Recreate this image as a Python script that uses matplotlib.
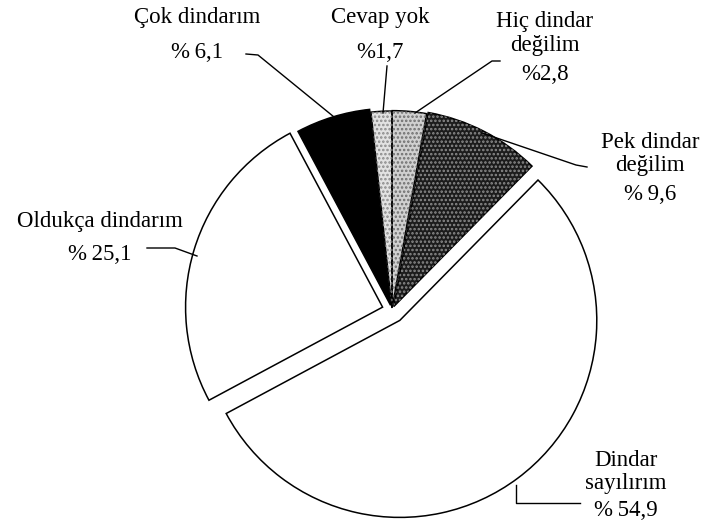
import matplotlib
matplotlib.use("Agg")
import matplotlib.pyplot as plt

# data
labels = ["Cevap yok", "Çok dindarım", "Oldukça dindarım", "Dindar sayılırım",
          "Pek dindar değilim", "Hiç dindar değilim"]
values = [1.7, 6.1, 25.1, 54.9, 9.6, 2.8]
pct_text = ["%1,7", "%\u20096,1", "%\u200925,1", "%\u200954,9", "%\u20099,6", "%2,8"]

# look of each wedge
face = ["#e2e2e2", "black", "white", "white", "#1c1c1c", "#d0d0d0"]
dots = ["#8a8a8a", None, None, None, "#8c8c8c", "#6e6e6e"]
explode = [0.01, 0.025, 0.05, 0.066, 0.02, 0.012]

W, H = 707, 527
CX, CY, R = 392, 310, 197   # pie centre and radius in pixels


def px(x, y):
    # pixel position -> data units (radius = 1)
    return ((x - CX) / R, (CY - y) / R)


plt.rcParams["font.family"] = ["Liberation Serif", "DejaVu Serif"]
plt.rcParams["hatch.linewidth"] = 1.2

fig = plt.figure(figsize=(W / 100, H / 100), dpi=100)
ax = fig.add_axes([0, 0, 1, 1])

wedges, _ = ax.pie(values, startangle=90, counterclock=True, explode=explode,
                   colors=face, radius=1, center=(0, 0),
                   wedgeprops=dict(edgecolor="black", linewidth=1.1))

# stipple texture on the patterned wedges
dot_wedges, _ = ax.pie(values, startangle=90, counterclock=True, explode=explode,
                       colors=["none"] * len(values), radius=1, center=(0, 0),
                       wedgeprops=dict(linewidth=0))
for w, c in zip(dot_wedges, dots):
    if c is None:
        w.set_visible(False)
    else:
        w.set_hatch("....")
        w.set_edgecolor(c)

ax.set_aspect("auto")
ax.set_xlim(px(0, 0)[0], px(W, 0)[0])
ax.set_ylim(px(0, H)[1], px(0, 0)[1])
ax.axis("off")

fs = 16.5

# text labels: (lines, x centre, first line y, line step)
label_layout = [
    (["Cevap yok", pct_text[0]], 380, 18, 35),
    (["Çok dindarım", pct_text[1]], 197, 18, 35),
    (["Oldukça dindarım", pct_text[2]], 100, 222, 33),
    (["Dindar", "sayılırım", pct_text[3]], 626, 460, 23),
    (["Pek dindar", "değilim", pct_text[4]], 650, 143, 23),
    (["Hiç dindar", "değilim", pct_text[5]], 545, 22, 24),
]
for lines, x, y0, step in label_layout:
    for k, t in enumerate(lines):
        yy = y0 + k * step + (5 if k == len(lines) - 1 and len(lines) == 3 else 0)
        ax.text(*px(x, yy), t, ha="center", va="center", fontsize=fs)

# leader lines (pixel coords)
leaders = [
    [(387, 66), (383, 113)],
    [(246, 54), (258, 55), (350, 130)],
    [(147, 248), (175, 248), (197, 256)],
    [(580, 503), (516, 503), (516, 485)],
    [(587, 167), (576, 165), (482, 133)],
    [(500, 61), (492, 61), (415, 113)],
]
for pts in leaders:
    xs, ys = zip(*[px(a, b) for a, b in pts])
    ax.plot(xs, ys, color="black", lw=1.0)

fig.savefig("out.png", dpi=100, facecolor="white")
